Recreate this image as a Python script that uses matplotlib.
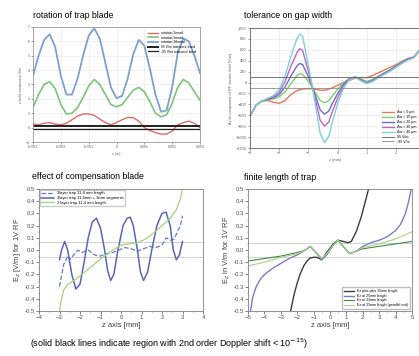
import matplotlib
matplotlib.use("Agg")
import matplotlib.pyplot as plt
from matplotlib.ticker import AutoMinorLocator

plt.rcParams['font.family'] = ['Liberation Sans', 'DejaVu Sans']

# ---- rotation of trap blade ----
z_rot = [-0.003, -0.0028, -0.0026, -0.0024, -0.0022, -0.002, -0.0018, -0.0016,
         -0.0014, -0.0012, -0.001, -0.0008, -0.0006, -0.0004, -0.0002, 0.0,
         0.0002, 0.0004, 0.0006, 0.0008, 0.001, 0.0012, 0.0014, 0.0016,
         0.0018, 0.002, 0.0022, 0.0024, 0.0026, 0.0028, 0.003]
rot_small = [0.25, 0.2, 0.3, 0.35, 0.25, 0.2, 0.3, 0.55, 0.8, 0.95, 0.95, 0.85,
             0.6, 0.35, 0.2, 0.35, 0.55, 0.7, 0.7, 0.45, 0.0, -0.2, -0.35,
             -0.45, -0.45, -0.25, 0.2, 0.35, 0.45, 0.3, 0.0]
rot_mid = [1.4, 2.3, 3.0, 3.2, 2.7, 1.6, 0.95, 1.0, 1.4, 2.1, 2.9, 3.35, 3.0,
           2.3, 1.6, 1.45, 1.6, 2.1, 2.6, 2.8, 2.5, 1.8, 1.0, 0.75, 0.9, 1.7,
           2.8, 3.35, 3.1, 2.5, 1.9]
rot_big = [3.6, 5.0, 6.1, 6.5, 5.6, 3.6, 2.3, 2.3, 3.4, 5.0, 6.4, 6.9, 6.2, 4.5,
           2.8, 2.05, 2.2, 3.4, 5.1, 6.1, 5.7, 4.1, 2.3, 1.1, 1.2, 2.8, 5.2,
           6.2, 6.0, 5.0, 3.8]
rot_labels = ['rotation 1mrad', 'rotation 5mrad', 'rotation 10mrad',
              '95 V/m tolerance band', '-95 V/m tolerance band']
rot_band = [0.12, -0.12]

# ---- tolerance on gap width ----
z_gap = [-3.0, -2.8, -2.6, -2.4, -2.2, -2.0, -1.8, -1.6, -1.4, -1.3, -1.2,
         -1.0, -0.8, -0.6, -0.45, -0.3, -0.2, 0.0, 0.2, 0.4, 0.6, 0.8, 1.0,
         1.2, 1.4, 1.6, 1.8, 2.0, 2.2, 2.4, 2.6, 2.85]
gap_0 = [-620, -420, -340, -330, -360, -380, -330, -220, -150, -130, -120,
         -110, -120, -140, -140, -120, -100, -50, 0, 40, 80, 90, 90, 130, 180,
         230, 280, 330, 390, 440, 470, 620]
gap_10 = [-620, -420, -340, -320, -300, -260, -170, -20, 120, 160, 150, 20,
          -150, -330, -370, -330, -260, -120, 0, 70, 100, 60, 20, 60, 120,
          180, 240, 310, 380, 430, 460, 620]
gap_20 = [-620, -420, -340, -310, -280, -220, -80, 120, 300, 350, 330, 100,
          -180, -500, -580, -520, -400, -200, -30, 70, 100, 50, 0, 40, 110,
          170, 230, 300, 370, 430, 460, 620]
gap_30 = [-620, -420, -340, -300, -260, -180, 20, 300, 540, 620, 590, 200,
          -220, -690, -800, -720, -560, -280, -60, 60, 100, 40, -10, 30, 100,
          160, 220, 290, 360, 420, 455, 620]
gap_40 = [-620, -420, -340, -290, -240, -130, 120, 480, 800, 890, 850, 300,
          -280, -930, -1100, -980, -760, -380, -100, 50, 95, 30, -20, 20, 90,
          150, 210, 280, 350, 410, 450, 620]
gap_labels = ['\u0394w = 0 \u00b5m', '\u0394w = 10 \u00b5m', '\u0394w = 20 \u00b5m',
              '\u0394w = 30 \u00b5m', '\u0394w = 40 \u00b5m', '95 V/m', '-95 V/m']
gap_band = [95, -95]

# ---- effect of compensation blade ----
z_seg = [-3.0, -2.9, -2.75, -2.6, -2.4, -2.2, -2.0, -1.8, -1.6, -1.4, -1.2,
         -1.0, -0.8, -0.65, -0.5, -0.35, -0.15, 0.1, 0.3, 0.45, 0.6, 0.8,
         0.95, 1.1, 1.3, 1.5, 1.75, 2.0, 2.2, 2.4, 2.55, 2.7, 2.85, 3.0]
ez_seg = [-0.08, 0.0, 0.07, 0.0, -0.2, -0.32, -0.28, -0.1, 0.1, 0.23, 0.26,
          0.18, 0.0, -0.17, -0.25, -0.2, 0.0, 0.2, 0.26, 0.27, 0.2, 0.0,
          -0.18, -0.25, -0.18, 0.0, 0.2, 0.3, 0.31, 0.2, 0.0, -0.08, -0.04, 0.07]
z_3l = [-3.0, -2.8, -2.6, -2.5, -2.3, -2.1, -1.9, -1.6, -1.3, -1.0, -0.7,
        -0.4, -0.1, 0.2, 0.5, 0.8, 1.1, 1.4, 1.7, 2.0, 2.2, 2.4, 2.6, 2.75,
        2.9, 3.0]
ez_3l = [-0.3, -0.12, -0.05, -0.08, -0.04, 0.0, -0.02, 0.0, -0.04, -0.05,
         -0.03, -0.02, 0.0, 0.02, 0.01, -0.01, 0.01, 0.03, 0.02, 0.04, 0.1,
         0.08, 0.09, 0.15, 0.2, 0.28]
z_2l = [-3.0, -2.9, -2.8, -2.6, -2.4, -2.2, -2.0, -1.6, -1.2, -0.8, -0.4, 0.0,
        0.4, 0.8, 1.2, 1.6, 2.0, 2.4, 2.7, 2.9, 3.0]
ez_2l = [-0.5, -0.4, -0.33, -0.28, -0.26, -0.24, -0.21, -0.16, -0.1, -0.05,
         0.0, 0.04, 0.05, 0.06, 0.09, 0.14, 0.2, 0.26, 0.33, 0.42, 0.5]
comp_labels = ['3layer trap 11.4 mm length', '3layer trap 11.4mm + 3mm segments',
               '2 layer trap 11.4 mm length']

# ---- finite length of trap ----
z_short = [-2.4, -2.2, -2.0, -1.8, -1.6, -1.4, -1.2, -1.0, -0.8, -0.5, -0.2,
           0.2, 0.5, 0.8, 1.1, 1.3, 1.6, 1.9, 2.1, 2.35]
ez_short = [-0.5, -0.37, -0.27, -0.19, -0.13, -0.09, -0.065, -0.06, -0.06,
            -0.08, -0.02, 0.05, 0.08, 0.07, 0.06, 0.07, 0.15, 0.27, 0.37, 0.5]
z_mid = [-4.85, -4.7, -4.5, -4.2, -3.9, -3.5, -3.0, -2.5, -2.0, -1.5, -1.2,
         -0.8, -0.5, -0.2, 0.2, 0.5, 0.8, 1.2, 1.6, 2.0, 2.5, 3.0, 3.5, 4.0,
         4.3, 4.6, 4.8, 4.95]
ez_mid = [-0.5, -0.38, -0.3, -0.23, -0.19, -0.15, -0.11, -0.07, -0.04, 0.0,
          0.03, -0.03, -0.08, -0.04, 0.04, 0.08, 0.03, -0.03, -0.01, 0.03,
          0.06, 0.08, 0.11, 0.16, 0.21, 0.3, 0.4, 0.5]
z_long = [-5, -4, -3, -2, -1.5, -1.2, -0.8, -0.5, -0.2, 0.2, 0.5, 0.8, 1.2,
          1.6, 2, 3, 4, 5]
ez_long = [-0.09, -0.07, -0.05, -0.02, 0.0, 0.03, -0.03, -0.07, -0.03, 0.04,
           0.08, 0.03, -0.03, -0.01, 0.01, 0.03, 0.05, 0.07]
ez_long_par = [-0.13, -0.1, -0.06, -0.03, 0.0, 0.03, -0.03, -0.07, -0.03,
               0.04, 0.08, 0.03, -0.03, -0.01, 0.02, 0.05, 0.09, 0.15]
fin_labels = ['Ez plus plus 15mm length', 'Ez at 25mm length',
              'Ez at 33mm length', 'Ez at 33mm length (parallel exit)']
fin_band = [0.06, -0.055]

W, H = 419, 356
fig = plt.figure(figsize=(W / 100, H / 100), dpi=100)


def box(l, t, r, b):
    return [l / W, 1 - b / H, (r - l) / W, (b - t) / H]


def frame(ax, color='#9a9a9a'):
    for s in ax.spines.values():
        s.set_color(color)
        s.set_linewidth(0.6)


# panel 1
ax1 = fig.add_axes(box(33, 27, 200, 142))
ax1.plot(z_rot, rot_small, color='#e06a6a', lw=1.0, label=rot_labels[0])
ax1.plot(z_rot, rot_mid, color='#7cc47a', lw=1.2, label=rot_labels[1])
ax1.plot(z_rot, rot_big, color='#7f9fd0', lw=1.3, label=rot_labels[2])
ax1.axhline(rot_band[0], color='#202020', lw=1.4, label=rot_labels[3])
ax1.axhline(rot_band[1], color='#202020', lw=0.9, label=rot_labels[4])
ax1.set_xlim(-0.003, 0.003)
ax1.set_ylim(-1, 7)
ax1.set_xticks([-0.003, -0.002, -0.001, 0, 0.001, 0.002, 0.003])
ax1.set_xticklabels(['-0.003', '-0.002', '-0.001', '0', '0.001', '0.002', '0.003'])
ax1.tick_params(labelsize=2.6, length=1.5, width=0.4, colors='#606060', pad=1)
ax1.set_xlabel('z (m)', fontsize=2.6, color='#606060', labelpad=2)
ax1.set_ylabel('z-field component V/m', fontsize=2.6, color='#606060', labelpad=2)
ax1.grid(True, color='#e8e8e8', lw=0.4)
frame(ax1)
ax1.legend(loc='upper right', fontsize=2.4, frameon=False, handlelength=3,
           labelspacing=0.2, borderaxespad=0.8)

# panel 2
ax2 = fig.add_axes(box(250, 28, 421, 148))
gap_colors = ['#e8765a', '#7cd06a', '#6c6cd0', '#c262c2', '#78d4d4']
for ys, c, lab in zip([gap_0, gap_10, gap_20, gap_30, gap_40], gap_colors, gap_labels):
    ax2.plot(z_gap, ys, color=c, lw=1.0, label=lab)
ax2.axhline(gap_band[0], color='#606060', lw=0.6, label=gap_labels[5])
ax2.axhline(gap_band[1], color='#8a8a8a', lw=0.6, label=gap_labels[6])
ax2.set_xlim(-3, 2.85)
ax2.set_ylim(-1200, 1000)
ax2.set_xticks([-3, -2, -1, 0, 1, 2])
ax2.set_yticks(range(-1200, 1001, 200))
ax2.tick_params(labelsize=2.8, length=1.5, width=0.4, colors='#606060', pad=1)
ax2.set_xlabel('z (mm)', fontsize=2.8, color='#606060', labelpad=2)
ax2.set_ylabel('Axial component of RF electric field (V/m)', fontsize=2.8,
               color='#606060', labelpad=2)
ax2.grid(True, color='#e4e4e4', lw=0.4)
frame(ax2, '#606060')
ax2.legend(loc='lower right', fontsize=2.6, frameon=False, handlelength=3.5,
           labelspacing=0.25, borderaxespad=0.8)

# panel 3
ax3 = fig.add_axes(box(39, 189, 203, 311))
ax3.axhline(0.065, color='#c8c8c8', lw=0.6)
ax3.axhline(-0.06, color='#c8c8c8', lw=0.6)
ax3.plot(z_3l, ez_3l, color='#6a78c8', lw=0.9, ls='--', label=comp_labels[0])
ax3.plot(z_seg, ez_seg, color='#5a66b4', lw=1.1, label=comp_labels[1])
ax3.plot(z_2l, ez_2l, color='#a6d27a', lw=0.9, label=comp_labels[2])
ax3.set_xlim(-4, 4)
ax3.set_ylim(-0.5, 0.5)
ax3.set_yticks([-0.5, -0.4, -0.3, -0.2, -0.1, 0.0, 0.1, 0.2, 0.3, 0.4, 0.5])
ax3.set_yticklabels(['-0.5', '-0.4', '-0.3', '-0.2', '-0.1', '0.0', '0.1',
                     '0.2', '0.3', '0.4', '0.5'])
ax3.xaxis.set_minor_locator(AutoMinorLocator(2))
ax3.yaxis.set_minor_locator(AutoMinorLocator(2))
ax3.tick_params(labelsize=4.3, length=2, width=0.5, colors='#505050', pad=1)
ax3.tick_params(which='minor', length=1, width=0.4, colors='#505050')
ax3.set_xlabel('z axis [mm]', fontsize=5.5, color='#404040', labelpad=1)
ax3.set_ylabel('E$_z$ [V/m] for 1V RF', fontsize=5.5, color='#404040', labelpad=1)
frame(ax3, '#808080')
ax3.legend(loc='upper left', fontsize=2.9, frameon=True, fancybox=False,
           edgecolor='#c0c0c0', handlelength=3, labelspacing=0.15,
           borderaxespad=0.3, borderpad=0.3)

# panel 4
ax4 = fig.add_axes(box(248, 189, 412, 311))
ax4.axhline(fin_band[0], color='#c8c8c8', lw=0.6)
ax4.axhline(fin_band[1], color='#c8c8c8', lw=0.6)
ax4.plot(z_short, ez_short, color='#3c3c3c', lw=1.0, label=fin_labels[0])
ax4.plot(z_mid, ez_mid, color='#7c7cc4', lw=1.0, label=fin_labels[1])
ax4.plot(z_long, ez_long, color='#3e8c3e', lw=0.8, label=fin_labels[2])
ax4.plot(z_long, ez_long_par, color='#a8d488', lw=0.8, label=fin_labels[3])
ax4.set_xlim(-5, 5)
ax4.set_ylim(-0.5, 0.5)
ax4.set_xticks(range(-5, 6))
ax4.set_yticks([-0.5, -0.4, -0.3, -0.2, -0.1, 0.0, 0.1, 0.2, 0.3, 0.4, 0.5])
ax4.set_yticklabels(['-0.5', '-0.4', '-0.3', '-0.2', '-0.1', '0.0', '0.1',
                     '0.2', '0.3', '0.4', '0.5'])
ax4.xaxis.set_minor_locator(AutoMinorLocator(2))
ax4.yaxis.set_minor_locator(AutoMinorLocator(2))
ax4.tick_params(labelsize=4.3, length=2, width=0.5, colors='#505050', pad=1)
ax4.tick_params(which='minor', length=1, width=0.4, colors='#505050')
ax4.set_xlabel('z axis [mm]', fontsize=5.5, color='#404040', labelpad=1)
ax4.set_ylabel('E$_z$ in V/m for 1V RF', fontsize=5.5, color='#404040', labelpad=1)
frame(ax4, '#808080')
ax4.legend(loc='lower right', fontsize=2.5, frameon=True, fancybox=False,
           edgecolor='#b0b0b0', handlelength=3, labelspacing=0.15,
           borderaxespad=0.6, borderpad=0.6)

# titles and caption
fig.text(33 / W, 1 - 15 / H, 'rotation of trap blade', fontsize=6.3, va='center')
fig.text(244 / W, 1 - 15 / H, 'tolerance on gap width', fontsize=6.3, va='center')
fig.text(32 / W, 1 - 177 / H, 'effect of compensation blade', fontsize=6.3, va='center')
fig.text(244 / W, 1 - 178 / H, 'finite length of trap', fontsize=6.3, va='center')
fig.text(30 / W, 1 - 344 / H,
         '(solid black lines indicate region with 2nd order Doppler shift < 10$^{-15}$)',
         fontsize=6.5, va='center')

fig.savefig('out.png', dpi=100)
